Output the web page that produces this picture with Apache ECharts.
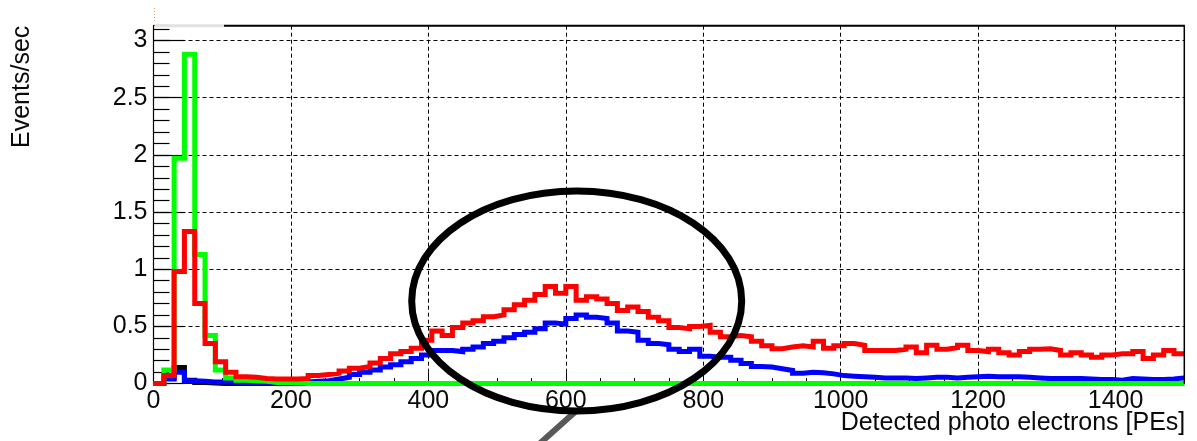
<!DOCTYPE html>
<html>
<head>
<meta charset="utf-8">
<script src="https://cdn.jsdelivr.net/npm/echarts@6/dist/echarts.min.js"></script>
<style>
html,body{margin:0;padding:0;background:#fff;}
#chart{width:1197px;height:441px;}
</style>
</head>
<body>
<div id="chart"></div>
<script>
// ---- Data (histograms, 100 bins of 15 PE from 0 to 1500) ----
const binWidth = 15;
const xTickLabels = [0, 200, 400, 600, 800, 1000, 1200, 1400];
const yTickLabels = [0, 0.5, 1, 1.5, 2, 2.5, 3];

const greenValues = [
  0, 0.12, 1.97, 2.88, 1.13, 0.42, 0.12, 0.05, 0.03, 0.025,
  0.02, 0.01, 0.01, 0.005, 0, 0, 0, 0, 0, 0,
  0, 0, 0, 0, 0, 0, 0, 0, 0, 0,
  0, 0, 0, 0, 0, 0, 0, 0, 0, 0,
  0, 0, 0, 0, 0, 0, 0, 0, 0, 0,
  0, 0, 0, 0, 0, 0, 0, 0, 0, 0,
  0, 0, 0, 0, 0, 0, 0, 0, 0, 0,
  0, 0, 0, 0, 0, 0, 0, 0, 0, 0,
  0, 0, 0, 0, 0, 0, 0, 0, 0, 0,
  0, 0, 0, 0, 0, 0, 0, 0, 0, 0
];

const blackValues = [
  0, 0.05, 0.14, 0.03, 0.01, 0.005, 0, 0, 0, 0,
  0, 0, 0, 0, 0, 0, 0, 0, 0, 0,
  0, 0, 0, 0, 0, 0, 0, 0, 0, 0,
  0, 0, 0, 0, 0, 0, 0, 0, 0, 0,
  0, 0, 0, 0, 0, 0, 0, 0, 0, 0,
  0, 0, 0, 0, 0, 0, 0, 0, 0, 0,
  0, 0, 0, 0, 0, 0, 0, 0, 0, 0,
  0, 0, 0, 0, 0, 0, 0, 0, 0, 0,
  0, 0, 0, 0, 0, 0, 0, 0, 0, 0,
  0, 0, 0, 0, 0, 0, 0, 0, 0, 0
];

const blueValues = [
  0, 0.04, 0.10, 0.025, 0.02, 0.015, 0.015, 0.012, 0.01, 0.01,
  0.01, 0.01, 0.01, 0.01, 0.015, 0.02, 0.025, 0.04, 0.055, 0.08,
  0.10, 0.12, 0.145, 0.165, 0.19, 0.22, 0.25, 0.29, 0.29, 0.28,
  0.30, 0.32, 0.35, 0.37, 0.40, 0.43, 0.45, 0.48, 0.53, 0.52,
  0.57, 0.60, 0.58, 0.57, 0.53, 0.46, 0.45, 0.38, 0.35, 0.34,
  0.30, 0.28, 0.30, 0.24, 0.23, 0.23, 0.205, 0.175, 0.15, 0.145,
  0.13, 0.115, 0.09, 0.10, 0.095, 0.085, 0.07, 0.065, 0.06, 0.055,
  0.05, 0.05, 0.05, 0.045, 0.05, 0.055, 0.055, 0.05, 0.055, 0.06,
  0.065, 0.06, 0.06, 0.06, 0.055, 0.05, 0.045, 0.045, 0.045, 0.045,
  0.04, 0.035, 0.035, 0.03, 0.045, 0.04, 0.035, 0.035, 0.04, 0.05
];

const redValues = [
  0, 0.07, 0.98, 1.33, 0.70, 0.35, 0.19, 0.10, 0.06, 0.055,
  0.045, 0.04, 0.04, 0.04, 0.045, 0.07, 0.08, 0.09, 0.11, 0.135,
  0.15, 0.18, 0.22, 0.26, 0.28, 0.31, 0.38, 0.46, 0.42, 0.49,
  0.53, 0.55, 0.585, 0.60, 0.645, 0.69, 0.73, 0.78, 0.85, 0.79,
  0.85, 0.73, 0.76, 0.74, 0.70, 0.64, 0.67, 0.63, 0.58, 0.55,
  0.49, 0.48, 0.50, 0.51, 0.45, 0.41, 0.42, 0.41, 0.37, 0.33,
  0.305, 0.32, 0.33, 0.32, 0.37, 0.31, 0.33, 0.35, 0.335, 0.29,
  0.29, 0.29, 0.30, 0.32, 0.27, 0.335, 0.30, 0.315, 0.335, 0.29,
  0.28, 0.30, 0.27, 0.25, 0.28, 0.30, 0.305, 0.29, 0.25, 0.27,
  0.25, 0.23, 0.25, 0.26, 0.26, 0.28, 0.22, 0.25, 0.29, 0.26
];

// ---- Build step points at bin edges ----
function toSteps(vals) {
  const pts = vals.map((v, i) => [i * binWidth, v]);
  pts.push([vals.length * binWidth, vals[vals.length - 1]]);
  return pts;
}

const FONT = '"Liberation Sans", Arial, sans-serif';
const box = { left: 153.5, right: 12.7, top: 25.7, bottom: 57.4 };
const xMax = 1500, yMax = 3.13;

function histSeries(name, vals, color, z) {
  return {
    name: name, type: 'line', xAxisIndex: 0, yAxisIndex: 0,
    step: 'end', showSymbol: false, symbol: 'none', clip: false, z: z,
    data: toSteps(vals),
    lineStyle: { color: color, width: 5, join: 'miter', cap: 'butt' },
    itemStyle: { color: color },
    emphasis: { disabled: true },
    silent: true
  };
}

const chart = echarts.init(document.getElementById('chart'), null, { renderer: 'canvas' });

const option = {
  animation: false,
  backgroundColor: '#fff',
  textStyle: { fontFamily: FONT },
  grid: [
    Object.assign({}, box),
    Object.assign({}, box)
  ],
  xAxis: [
    {
      type: 'value', gridIndex: 0, min: 0, max: xMax, interval: 200,
      axisLine: { show: true, onZero: false, lineStyle: { color: '#000', width: 1 } },
      axisTick: { show: true, inside: true, length: 11, lineStyle: { color: '#000', width: 1 } },
      axisLabel: {
        show: true, fontSize: 25, color: '#0a0a0a', fontFamily: FONT, margin: 5,
        showMaxLabel: false, showMinLabel: true,
        formatter: function (v) { return xTickLabels.indexOf(v) >= 0 ? String(v) : ''; }
      },
      splitLine: { show: true, lineStyle: { color: '#000', width: 1, type: [4, 3] } }
    },
    {
      type: 'value', gridIndex: 1, min: 0, max: xMax, interval: 50,
      axisLine: { show: false },
      axisTick: { show: true, inside: true, length: 5.5, lineStyle: { color: '#000', width: 1 } },
      axisLabel: { show: false },
      splitLine: { show: false }
    }
  ],
  yAxis: [
    {
      type: 'value', gridIndex: 0, min: 0, max: yMax, interval: 0.5,
      axisLine: { show: true, onZero: false, lineStyle: { color: '#000', width: 1.2 } },
      axisTick: { show: true, inside: true, length: 31, lineStyle: { color: '#000', width: 1.2 } },
      axisLabel: {
        show: true, fontSize: 25, color: '#0a0a0a', fontFamily: FONT, margin: 6,
        showMaxLabel: false,
        formatter: function (v) { return yTickLabels.indexOf(v) >= 0 ? String(v) : ''; }
      },
      splitLine: { show: true, lineStyle: { color: '#000', width: 1, type: [4, 3] } }
    },
    {
      type: 'value', gridIndex: 1, min: 0, max: yMax, interval: 0.1,
      axisLine: { show: false },
      axisTick: { show: true, inside: true, length: 16, lineStyle: { color: '#000', width: 1.2 } },
      axisLabel: { show: false },
      splitLine: { show: false }
    }
  ],
  series: [
    histSeries('black', blackValues, '#000000', 10),
    histSeries('blue', blueValues, '#0000ff', 11),
    histSeries('green', greenValues, '#00ff00', 12),
    histSeries('red', redValues, '#ff0000', 13)
  ]
};

chart.setOption(option);

// ---- Frame, titles and annotation (pixel placement from the grid) ----
const pTL = chart.convertToPixel({ gridIndex: 0 }, [0, yMax]);
const pBR = chart.convertToPixel({ gridIndex: 0 }, [xMax, 0]);
const frameTop = pTL[1], frameLeft = pTL[0], frameRight = pBR[0], frameBottom = pBR[1];

chart.setOption({
  graphic: [
    // top frame: faint at far left, black for the rest
    { type: 'line', z: 50, shape: { x1: frameLeft + 1, y1: frameTop, x2: 224, y2: frameTop },
      style: { stroke: '#e2e2e2', lineWidth: 3 } },
    { type: 'line', z: 51, shape: { x1: 224, y1: frameTop, x2: frameRight + 0.5, y2: frameTop },
      style: { stroke: '#000', lineWidth: 2 } },
    // right frame
    { type: 'line', z: 51, shape: { x1: frameRight, y1: frameTop, x2: frameRight, y2: frameBottom },
      style: { stroke: '#000', lineWidth: 1.5 } },
    // small faint mark above the axis
    { type: 'line', z: 51, shape: { x1: frameLeft + 1, y1: 8, x2: frameLeft + 1, y2: 22 },
      style: { stroke: '#d9a066', lineWidth: 1, lineDash: [1, 2] } },
    // axis titles
    { type: 'text', z: 60, x: frameRight + 1, y: 423,
      style: { text: 'Detected photo electrons [PEs]', fontSize: 25, fontFamily: FONT,
               fill: '#0a0a0a', align: 'right', verticalAlign: 'middle' } },
    { type: 'text', z: 60, x: 22.5, y: frameTop, rotation: Math.PI / 2,
      style: { text: 'Events/sec', fontSize: 25, fontFamily: FONT,
               fill: '#0a0a0a', align: 'right', verticalAlign: 'middle' } },
    // annotation: pointer line and ellipse
    { type: 'line', z: 70, shape: { x1: 575, y1: 412, x2: 537, y2: 446 },
      style: { stroke: '#595959', lineWidth: 6 } },
    { type: 'ellipse', z: 71, shape: { cx: 576.7, cy: 301, rx: 165, ry: 110 },
      style: { fill: null, stroke: '#000', lineWidth: 7 } }
  ]
});
</script>
</body>
</html>
